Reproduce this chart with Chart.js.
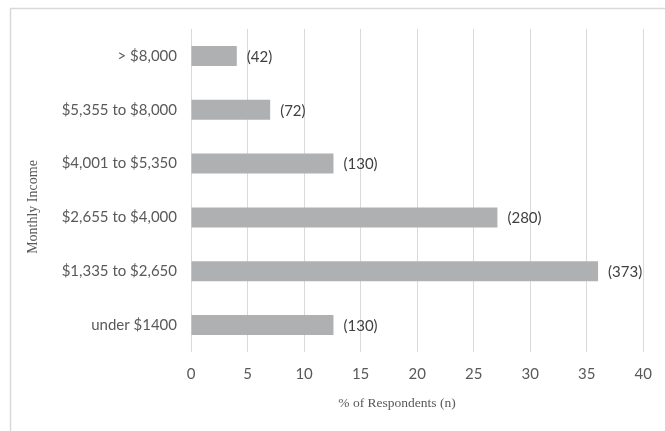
<!DOCTYPE html>
<html>
<head>
<meta charset="utf-8">
<script src="https://cdn.jsdelivr.net/npm/chart.js@4/dist/chart.umd.min.js"></script>
<style>
  html, body { margin: 0; padding: 0; background: #ffffff; }
  #wrap { width: 665px; height: 431px; position: relative; }
</style>
</head>
<body>
<div id="wrap"><canvas id="c" width="665" height="431"></canvas></div>
<script>
const categories = ["> $8,000", "$5,355 to $8,000", "$4,001 to $5,350", "$2,655 to $4,000", "$1,335 to $2,650", "under $1400"];
const percentValues = [4.05, 7.0, 12.6, 27.1, 36.0, 12.6];
const respondentCounts = [42, 72, 130, 280, 373, 130];
const xTickValues = [0, 5, 10, 15, 20, 25, 30, 35, 40];
const xAxisTitle = "% of Respondents (n)";
const yAxisTitle = "Monthly Income";

const frame = {
  id: 'frame',
  beforeDraw(chart) {
    const ctx = chart.ctx;
    ctx.save();
    ctx.fillStyle = '#ffffff';
    ctx.fillRect(0, 0, chart.width, chart.height);
    ctx.strokeStyle = '#d9d9d9';
    ctx.lineWidth = 1.5;
    ctx.beginPath();
    ctx.moveTo(10.5, chart.height + 2);
    ctx.lineTo(10.5, 8.5);
    ctx.lineTo(chart.width + 2, 8.5);
    ctx.stroke();
    ctx.restore();
  }
};

const countLabels = {
  id: 'countLabels',
  afterDatasetsDraw(chart) {
    const ctx = chart.ctx;
    const meta = chart.getDatasetMeta(0);
    ctx.save();
    ctx.font = '15px Lato';
    ctx.fillStyle = '#404040';
    ctx.textAlign = 'left';
    ctx.textBaseline = 'middle';
    meta.data.forEach((bar, i) => {
      ctx.fillText('(' + respondentCounts[i] + ')', bar.x + 10, bar.y + 1);
    });
    ctx.restore();
  }
};

const axisTitles = {
  id: 'axisTitles',
  afterDraw(chart) {
    const ctx = chart.ctx;
    ctx.save();
    ctx.fillStyle = '#595959';
    ctx.font = '13.5px "Liberation Serif"';
    ctx.textAlign = 'center';
    ctx.textBaseline = 'middle';
    ctx.fillText(xAxisTitle, 397, 403);
    ctx.font = '14px "Liberation Serif"';
    ctx.translate(33, 207);
    ctx.rotate(-Math.PI / 2);
    ctx.fillText(yAxisTitle, 0, 0);
    ctx.restore();
  }
};

new Chart(document.getElementById('c'), {
  type: 'bar',
  data: {
    labels: categories,
    datasets: [{
      data: percentValues,
      backgroundColor: '#afb0b2',
      borderWidth: 0,
      barPercentage: 0.74,
      categoryPercentage: 0.5
    }]
  },
  options: {
    indexAxis: 'y',
    responsive: false,
    animation: false,
    devicePixelRatio: 1,
    layout: { padding: { left: 0, top: 29, right: 19, bottom: 0 } },
    plugins: { legend: { display: false }, tooltip: { enabled: false } },
    scales: {
      x: {
        min: 0, max: 40,
        afterBuildTicks(scale) { scale.ticks = xTickValues.map(v => ({ value: v })); },
        afterFit(scale) { scale.height = 79; },
        grid: { color: '#d9d9d9', lineWidth: 1, drawTicks: false },
        border: { display: false },
        ticks: { padding: 13, color: '#595959', font: { family: 'Lato', size: 15 } }
      },
      y: {
        afterFit(scale) { scale.width = 191; },
        grid: { display: false, drawTicks: false },
        border: { display: false },
        ticks: { padding: 14, color: '#595959', font: { family: 'Lato', size: 15 } }
      }
    }
  },
  plugins: [frame, countLabels, axisTitles]
});
</script>
</body>
</html>
